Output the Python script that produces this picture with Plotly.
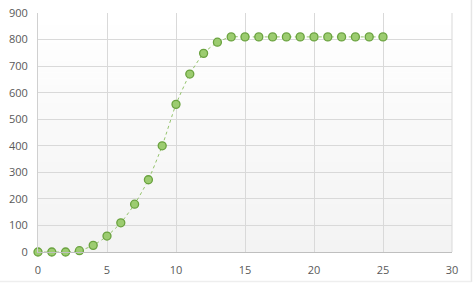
import plotly.graph_objects as go

x_vals = list(range(0, 26))
y_vals = [0, 0, 0, 5, 25, 60, 110, 180, 272, 400, 556, 670, 748, 790, 810,
          810, 810, 810, 810, 810, 810, 810, 810, 810, 810, 810]
x_ticks = [0, 5, 10, 15, 20, 25, 30]
y_ticks = [0, 100, 200, 300, 400, 500, 600, 700, 800, 900]

fig = go.Figure()
fig.add_trace(go.Scatter(
    x=x_vals, y=y_vals, mode="lines+markers",
    line=dict(color="#94c36c", width=1, dash="dot", shape="spline", smoothing=0.6),
    marker=dict(size=8, color="#9ccc70", line=dict(color="#6aa23f", width=1.3)),
    cliponaxis=False, showlegend=False,
))

# subtle vertical gradient in plot background
n = 40
for i in range(n):
    t = i / n
    c = int(round(255 - 12 * (1 - (t + 0.5 / n))))
    fig.add_shape(type="rect", xref="x domain", yref="y domain",
                  x0=0, x1=1, y0=t, y1=t + 1.0 / n + 0.002,
                  fillcolor=f"rgb({c},{c},{c})", line=dict(width=0), layer="below")

# faint chart border on right and bottom
fig.add_shape(type="line", xref="paper", yref="paper", x0=1.047, x1=1.047, y0=-0.125, y1=1.06,
              line=dict(color="#e6e6e6", width=1.5))
fig.add_shape(type="line", xref="paper", yref="paper", x0=-0.1, x1=1.047, y0=-0.123, y1=-0.123,
              line=dict(color="#eeeeee", width=1.5))

fig.update_layout(
    width=474, height=283,
    margin=dict(l=38, r=22, t=13, b=31),
    paper_bgcolor="white", plot_bgcolor="white",
    font=dict(family="Open Sans, Liberation Sans, sans-serif", size=11, color="#595959"),
    xaxis=dict(range=[0, 30], tickvals=x_ticks, showgrid=True, gridcolor="#d9d9d9",
               gridwidth=1, zeroline=False, showline=True, linecolor="#bfbfbf",
               mirror=False, ticks="", ticklen=0, ticklabelstandoff=8, automargin=False,
               tickfont=dict(size=11, color="#595959")),
    yaxis=dict(range=[0, 900], tickvals=y_ticks, showgrid=True, gridcolor="#d9d9d9",
               gridwidth=1, zeroline=False, showline=True, linecolor="#d0d0d0",
               ticks="", ticklabelstandoff=7, automargin=False,
               tickfont=dict(size=11, color="#595959")),
)
fig.add_shape(type="line", xref="x domain", yref="y domain", x0=1, x1=1, y0=0, y1=1,
              line=dict(color="#d9d9d9", width=1))

fig.write_html("out.html")
